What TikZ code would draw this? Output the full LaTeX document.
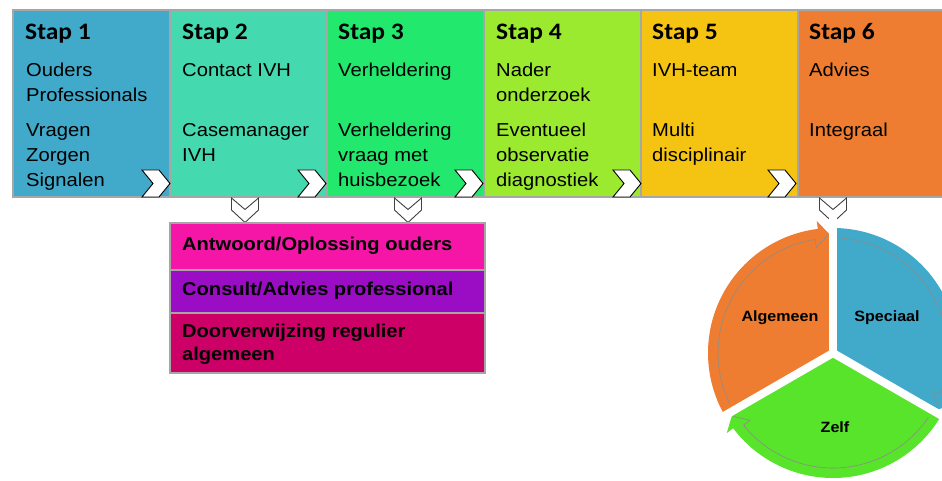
\documentclass[tikz,border=0pt]{standalone}
\usepackage{fontspec}
\setmainfont[FakeStretch=1.08]{Liberation Sans}
\newfontfamily\hdfont[FakeStretch=1.08]{Carlito}
\definecolor{cA}{HTML}{41A9C9}
\definecolor{cB}{HTML}{45D9B0}
\definecolor{cC}{HTML}{22E86E}
\definecolor{cD}{HTML}{9BEA2F}
\definecolor{cE}{HTML}{F5C412}
\definecolor{cF}{HTML}{EE7D31}
\definecolor{pk}{HTML}{F516A8}
\definecolor{pu}{HTML}{9B0DC4}
\definecolor{cr}{HTML}{CC0066}
\definecolor{pg}{HTML}{58E42A}
\definecolor{bord}{HTML}{A6A6A6}
\begin{document}
\begin{tikzpicture}[x=1pt,y=-1pt,
  colbox/.style={draw=bord, line width=2.5pt, anchor=north west, minimum width=157pt, minimum height=187pt, inner sep=0pt, outer sep=0pt},
  rowbox/.style={draw=bord, line width=2.5pt, anchor=north west, minimum width=315pt, inner sep=0pt, outer sep=0pt},
  hd/.style={anchor=base west, inner sep=0pt, font=\hdfont\bfseries\fontsize{23.6}{28}\selectfont},
  txt/.style={anchor=base west, inner sep=0pt, align=left, font=\fontsize{18.7}{24.5}\selectfont},
  btxt/.style={anchor=base west, inner sep=0pt, align=left, font=\bfseries\fontsize{18.6}{23}\selectfont},
  pl/.style={inner sep=0pt, font=\bfseries\fontsize{14.9}{18}\selectfont},
  rchev/.pic={\draw[fill=white, line width=0.9pt, line join=miter] (-28,-13.5) -- (-11,-13.5) -- (0,0) -- (-11,13.5) -- (-28,13.5) -- (-17,0) -- cycle;},
  dchev/.pic={\draw[fill=white, draw=black!75, line width=0.9pt] (-13.5,0) -- (0,11.5) -- (13.5,0) -- (13.5,12) -- (0,24.5) -- (-13.5,12) -- cycle;},
  garc/.style={draw=black!45, line width=0.6pt}
]
\clip (0,0) rectangle (942,481);
\fill[white] (0,0) rectangle (942,481);

% columns
\node[colbox, fill=cA] (c1) at (13,10) {};
\node[colbox, fill=cB] (c2) at (170,10) {};
\node[colbox, fill=cC] (c3) at (327,10) {};
\node[colbox, fill=cD] (c4) at (484,10) {};
\node[colbox, fill=cE] (c5) at (641,10) {};
\node[colbox, fill=cF] (c6) at (798,10) {};

% headers
\node[hd] (h1) at (25,40) {Stap 1};
\node[hd] (h2) at (182,40) {Stap 2};
\node[hd] (h3) at (338,40) {Stap 3};
\node[hd] (h4) at (496,40) {Stap 4};
\node[hd] (h5) at (652,40) {Stap 5};
\node[hd] (h6) at (809,40) {Stap 6};

% row 1 (anchor = baseline of last line)
\node[txt] (a1) at (26,101.5) {Ouders\\Professionals};
\node[txt] (a2) at (182,77) {Contact IVH};
\node[txt] (a3) at (338,77) {Verheldering};
\node[txt] (a4) at (496,101.5) {Nader\\onderzoek};
\node[txt] (a5) at (652,77) {IVH-team};
\node[txt] (a6) at (809,77) {Advies};

% row 2
\node[txt] (b1) at (26,186) {Vragen\\Zorgen\\Signalen};
\node[txt] (b2) at (182,161.5) {Casemanager\\IVH};
\node[txt] (b3) at (338,186) {Verheldering\\vraag met\\huisbezoek};
\node[txt] (b4) at (496,186) {Eventueel\\observatie\\diagnostiek};
\node[txt] (b5) at (652,161.5) {Multi\\disciplinair};
\node[txt] (b6) at (809,137) {Integraal};

% right chevrons
\pic at (170,183.5) {rchev};
\pic at (326,183.5) {rchev};
\pic at (483,183.5) {rchev};
\pic at (641,183.5) {rchev};
\pic at (796,183.5) {rchev};

% down chevrons
\pic at (245,198) {dchev};
\pic at (408,198) {dchev};
\pic at (833,198) {dchev};

% outcome box
\node[rowbox, fill=pk, minimum height=47pt] (r1) at (170,223) {};
\node[rowbox, fill=pu, minimum height=43pt] (r2) at (170,270) {};
\node[rowbox, fill=cr, minimum height=60pt] (r3) at (170,313) {};
\node[btxt] (t1) at (182,250) {Antwoord/Oplossing ouders};
\node[btxt] (t2) at (182,295) {Consult/Advies professional};
\node[btxt] (t3) at (182,360) {Doorverwijzing regulier\\algemeen};

% pie
\begin{scope}[shift={(833,353)}, yscale=-1]
  \fill[cF] (0,0) -- (210:125) arc[start angle=210, end angle=97, radius=125] -- (97:133) -- (92:119.5) -- cycle;
  \fill[cA] (0,0) -- (90:125) arc[start angle=90, end angle=-23, radius=125] -- (-23:133) -- (-28:119.5) -- cycle;
  \fill[pg] (0,0) -- (330:125) arc[start angle=330, end angle=217, radius=125] -- (217:133) -- (212:119.5) -- cycle;
  \draw[white, line width=8pt] (0,0) -- (90:140);
  \draw[white, line width=8pt] (0,0) -- (210:140);
  \draw[white, line width=8pt] (0,0) -- (330:140);
  \draw[garc] (206:115) arc[start angle=206, end angle=99, radius=115] -- (99:107) -- (92.5:118);
  \draw[garc] (86:115) arc[start angle=86, end angle=-21, radius=115] -- (-21:107) -- (-27.5:118);
  \draw[garc] (326:115) arc[start angle=326, end angle=219, radius=115] -- (219:107) -- (212.5:118);
\end{scope}
\node[pl] (p1) at (780,318) {Algemeen};
\node[pl] (p2) at (887,318) {Speciaal};
\node[pl] (p3) at (835,427) {Zelf};
\end{tikzpicture}
\end{document}
